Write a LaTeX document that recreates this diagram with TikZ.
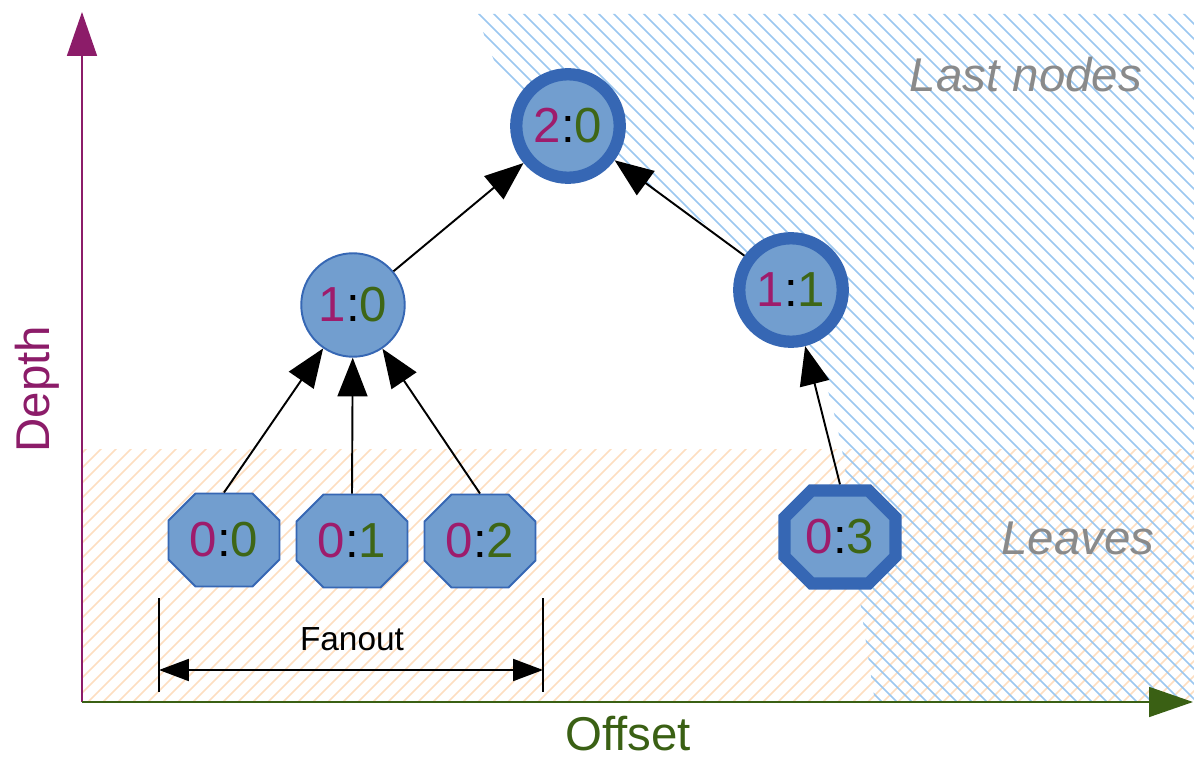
\documentclass[tikz,border=0pt]{standalone}
\usepackage{xcolor}
\usepackage{fontspec}
\setmainfont{Liberation Sans}
\usepackage{tikz}
\usetikzlibrary{arrows.meta,shapes.misc}

\definecolor{depthc}{RGB}{158,28,108}
\definecolor{offc}{RGB}{62,102,22}
\definecolor{deptha}{RGB}{140,28,105}
\definecolor{offa}{RGB}{58,96,20}
\definecolor{nodefill}{RGB}{114,158,207}
\definecolor{nodeline}{RGB}{54,103,180}
\definecolor{hatchblue}{RGB}{155,199,240}
\definecolor{hatchorange}{RGB}{253,222,192}
\definecolor{notegray}{RGB}{138,138,138}

\newcommand{\idx}[2]{\textcolor{depthc}{#1}:\textcolor{offc}{#2}}

\begin{document}
\begin{tikzpicture}[x=0.02cm, y=-0.02cm,
            inner/.style={circle, draw=nodeline, fill=nodefill, line width=1.1pt,
                minimum size=2.07cm, inner sep=0pt, font=\fontsize{28}{30}\selectfont},
            leaf/.style={chamfered rectangle, chamfered rectangle sep=0.27cm,
                draw=nodeline, fill=nodefill, line width=1.1pt, minimum width=2.22cm,
                minimum height=1.86cm, inner sep=0pt, font=\fontsize{28}{30}\selectfont},
            last/.style={line width=7pt},
            edge/.style={line width=1.1pt, -{Triangle[length=22pt,width=17pt]}},
            fan/.style={line width=1.1pt, {Triangle[length=17pt,width=12.5pt]}-{Triangle[length=17pt,width=12.5pt]}},
            axis/.style={line width=1.1pt, -{Triangle[length=25pt,width=17pt]}},
            axislabel/.style={font=\fontsize{27}{30}\selectfont, inner sep=1pt},
            note/.style={font=\fontsize{27}{30}\selectfont\itshape, text=notegray},
            bluehatch/.style={draw=hatchblue, line width=0.9pt},
            orangehatch/.style={draw=hatchorange, line width=0.9pt}]
            \useasboundingbox (0,0) rectangle (1194,763);

            % leaves band
            \begin{scope}
                \clip (82,450) rectangle (1194,702);
                \foreach \c in {520,535,...,1900}
                    \draw[orangehatch] (\c,0) -- ++(-800,800);
            \end{scope}

            % last nodes band
            \begin{scope}
                \clip (478,14) -- (1194,14) -- (1194,702) -- (875,702)
                    -- plot[smooth] coordinates {(875,702) (860,600) (842,450) (812,350) (740,252) (640,180) (513,90) (478,14)} -- cycle;
                \foreach \c in {-240,-225,...,1200}
                    \draw[bluehatch] (\c,0) -- ++(800,800);
            \end{scope}

            \coordinate (origin) at (82,702);
            \coordinate (ytop) at (82,12);
            \coordinate (xend) at (1193,702);
            \draw[axis, draw=deptha, fill=deptha] (origin) -- (ytop);
            \draw[axis, draw=offa, fill=offa] (origin) -- (xend);
            \node[axislabel, text=deptha, rotate=90, anchor=base] (depth) at (50,389) {Depth};
            \node[axislabel, text=offa, anchor=base] (offset) at (628,750) {Offset};

            \node[note, anchor=base] (lastnodes) at (1026,92) {Last nodes};
            \node[note, anchor=base] (leaves) at (1078,555) {Leaves};

            \coordinate (fanl) at (159,670);
            \coordinate (fanr) at (543,670);
            \draw[line width=1.1pt] (159,598) -- (159,692);
            \draw[line width=1.1pt] (543,598) -- (543,692);
            \draw[fan] (fanl) -- (fanr);
            \node[font=\fontsize{19}{22}\selectfont, anchor=base] (fanout) at (352,650) {Fanout};

            \node[inner, last] (n20) at (568,126) {\idx{2}{0}};
            \node[inner] (n10) at (353,305) {\idx{1}{0}};
            \node[inner, last] (n11) at (791,290) {\idx{1}{1}};
            \node[leaf] (l00) at (224,540) {\idx{0}{0}};
            \node[leaf] (l01) at (352,541) {\idx{0}{1}};
            \node[leaf] (l02) at (480,541) {\idx{0}{2}};
            \node[leaf, last] (l03) at (840,537) {\idx{0}{3}};

            \draw[edge] (l00.north) -- (n10);
            \draw[edge] (l01.north) -- (n10);
            \draw[edge] (l02.north) -- (n10);
            \draw[edge] (n10) -- (n20);
            \draw[edge] (n11) -- (n20);
            \draw[edge] (l03.north) -- (n11);
\end{tikzpicture}
\end{document}
